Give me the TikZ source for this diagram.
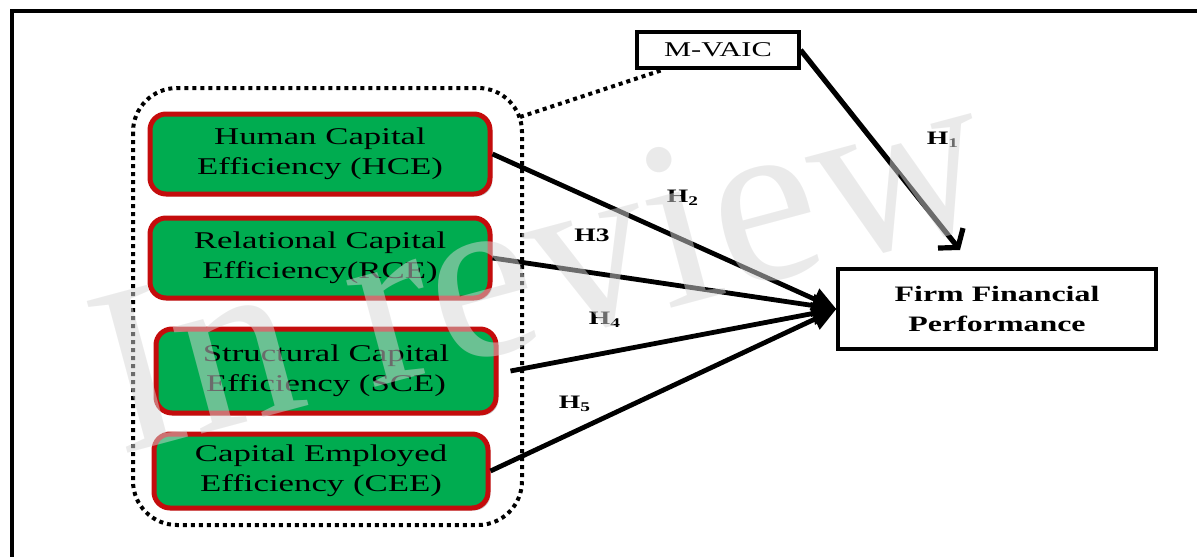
\documentclass[tikz,border=0pt]{standalone}
\usepackage{fontspec}
\setmainfont{Liberation Serif}[FakeStretch=1.45]
\newfontfamily\stampfont{Liberation Serif}
\usepackage{tikz}
\usetikzlibrary{arrows.meta, shadows, calc}
\definecolor{capgreen}{RGB}{0,172,80}
\definecolor{capred}{RGB}{196,12,12}
\tikzstyle{capbox} = [draw=capred, line width=2.5pt, fill=capgreen, rounded corners=8pt, minimum width=170pt, minimum height=40pt, align=center, font=\fontsize{12}{15}\selectfont, drop shadow={shadow xshift=1.2pt, shadow yshift=-1.2pt, opacity=0.35, fill=black!60}]
\tikzstyle{path} = [line width=2.4pt, -{Triangle[length=12pt, width=11pt]}]

\begin{document}
\begin{tikzpicture}[x=0.5pt, y=-0.5pt,
        % Style for the plain boxes and the H labels
        plainbox/.style={draw, line width=1.6pt, align=center},
        hyp/.style={font=\fontsize{9.5}{11}\selectfont\bfseries, inner sep=1pt}
    ]
        \useasboundingbox (0,0) rectangle (1197,557);

        % --- Outer frame (runs off the page at right and bottom) ---
        \draw[line width=1.6pt] (1197,11) -| (12,557);

        % --- The four capital efficiency boxes ---
        \node (hce) [capbox] at (320,154) {Human Capital\\Efficiency (HCE)};
        \node (rce) [capbox] at (320,258) {Relational Capital\\Efficiency(RCE)};
        \node (sce) [capbox, minimum height=42pt] at (326,371) {Structural Capital\\Efficiency (SCE)};
        \node (cee) [capbox, minimum width=167pt, minimum height=37pt] at (321,471) {Capital Employed\\Efficiency (CEE)};

        % --- Dotted group round them ---
        \draw[line width=2pt, dash pattern=on 2pt off 2pt, rounded corners=22pt] (133,88) rectangle (522,525);
        \coordinate (grp_corner) at (520,117);

        % --- M-VAIC and the outcome box ---
        \node (mvaic) [plainbox, minimum width=81pt, minimum height=18pt, font=\fontsize{10.5}{12}\selectfont] at (718,50) {M-VAIC};
        \node (ffp) [plainbox, minimum width=159pt, minimum height=40pt, font=\fontsize{11}{15}\selectfont\bfseries] at (997,309) {Firm Financial\\Performance};
        \coordinate (h1_end) at (960,250);

        \draw[line width=2pt, dash pattern=on 2pt off 2pt] (grp_corner) -- ($(mvaic.south west)!0.17!(mvaic.south east)$);

        % --- Hypothesis arrows ---
        \draw[line width=2.6pt, -{Straight Barb[length=6pt, width=16pt]}] (mvaic.east) -- (h1_end);
        \draw[path] (hce.east) -- (ffp.west);
        \draw[path] (rce.east) -- (ffp.west);
        \draw[path] ([xshift=6pt]sce.east) -- (ffp.west);
        \draw[path] (cee.east) -- (ffp.west);

        \node (lh1) [hyp] at (943,140) {H\textsubscript{1}};
        \node (lh2) [hyp] at (683,198) {H\textsubscript{2}};
        \node (lh3) [hyp] at (592,235) {H3};
        \node (lh4) [hyp] at (605,320) {H\textsubscript{4}};
        \node (lh5) [hyp] at (575,404) {H\textsubscript{5}};

        % --- Faint watermark laid over the picture ---
        \node[rotate=15, text=black!16, text opacity=0.5, font=\stampfont\fontsize{120}{120}\selectfont] (stamp) at (540,262) {In review};

    \end{tikzpicture}
\end{document}
